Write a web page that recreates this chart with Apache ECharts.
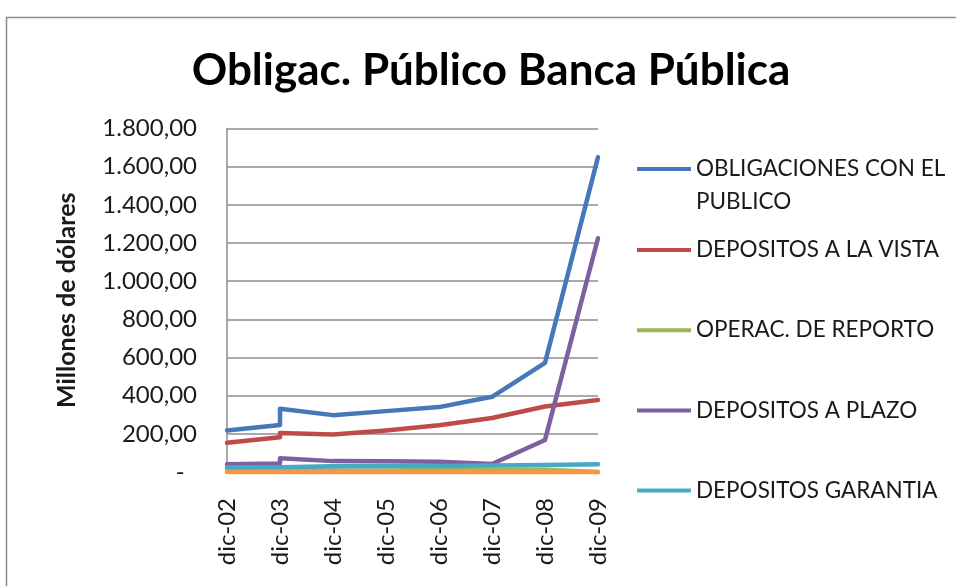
<!DOCTYPE html>
<html>
<head>
<meta charset="utf-8">
<script src="https://cdn.jsdelivr.net/npm/echarts@6/dist/echarts.min.js"></script>
<style>
  html, body { margin: 0; padding: 0; background: #ffffff; }
  #chart { width: 956px; height: 586px; }
</style>
</head>
<body>
<div id="chart"></div>
<script>
// Period of each observation (December of each year; dic-03 reported twice)
const periods = ['dic-02', 'dic-03', 'dic-03', 'dic-04', 'dic-05', 'dic-06', 'dic-07', 'dic-08', 'dic-09'];
// Labels of the horizontal axis
const tickLabels = ['dic-02', 'dic-03', 'dic-04', 'dic-05', 'dic-06', 'dic-07', 'dic-08', 'dic-09'];

// Millones de dólares
const obligacionesPublico = [218, 246, 332, 298, 319, 340, 394, 572, 1650];
const depositosVista      = [153, 182, 205, 196, 218, 245, 283, 343, 377];
const operacReporto       = [12, 12, 8, 8, 8, 10, 12, 12, 0];
const depositosPlazo      = [40, 45, 72, 57, 56, 54, 42, 168, 1225];
const depositosGarantia   = [24, 25, 30, 30, 31, 32, 34, 37, 40];
const depositosRestring   = [0, 0, 0, 0, 0, 0, 0, 0, 0];

const seriesDefs = [
  { name: 'OBLIGACIONES CON EL PUBLICO', values: obligacionesPublico, color: '#4677b8' },
  { name: 'DEPOSITOS A LA VISTA',        values: depositosVista,      color: '#be4b48' },
  { name: 'OPERAC. DE REPORTO',          values: operacReporto,       color: '#98b954' },
  { name: 'DEPOSITOS A PLAZO',           values: depositosPlazo,      color: '#7d60a0' },
  { name: 'DEPOSITOS GARANTIA',          values: depositosGarantia,   color: '#46aac5' },
  { name: 'DEPOSITOS RESTRINGIDOS',      values: depositosRestring,   color: '#f79646' }
];

const FONT = 'Lato, "Open Sans", "Liberation Sans", sans-serif';
const TEXT = '#1a1a1a';

function fmtMiles(v) {
  if (v === 0) return '-  ';
  const s = String(Math.round(v));
  return s.replace(/\B(?=(\d{3})+(?!\d))/g, '.') + ',00';
}

const chart = echarts.init(document.getElementById('chart'), null, { renderer: 'canvas' });

const legendBase = {
  orient: 'vertical',
  left: 637,
  padding: 0,
  itemWidth: 54,
  itemHeight: 4,
  icon: 'rect',
  selectedMode: false,
  textStyle: { fontFamily: FONT, fontSize: 22.5, color: TEXT, lineHeight: 33 }
};

chart.setOption({
  backgroundColor: '#ffffff',
  animation: false,
  title: {
    text: 'Obligac. Público Banca Pública',
    left: 491,
    textAlign: 'center',
    top: 49,
    padding: 0,
    textStyle: { fontFamily: FONT, fontSize: 44, fontWeight: 'bold', color: '#000000' }
  },
  graphic: [{
    type: 'rect',
    silent: true,
    shape: { x: 6.5, y: 17.5, width: 1200, height: 1000 },
    style: { fill: null, stroke: '#8c8c8c', lineWidth: 1.5 }
  }],
  legend: [
    Object.assign({}, legendBase, {
      top: 119.5,
      data: ['OBLIGACIONES CON EL PUBLICO'],
      formatter: n => '\n' + n.replace('CON EL ', 'CON EL\n')
    }),
    Object.assign({}, legendBase, {
      top: 233.5,
      itemGap: 47.2,
      data: ['DEPOSITOS A LA VISTA', 'OPERAC. DE REPORTO', 'DEPOSITOS A PLAZO', 'DEPOSITOS GARANTIA']
    })
  ],
  grid: { left: 227, right: 358, top: 128.5, bottom: 114, containLabel: false },
  xAxis: {
    type: 'value',
    min: 0,
    max: tickLabels.length - 1,
    interval: 1,
    axisLine: { show: true, onZero: false, lineStyle: { color: '#8c8c8c', width: 1.5 } },
    axisTick: { show: false },
    splitLine: { show: false },
    axisLabel: {
      rotate: 90,
      margin: 26,
      fontFamily: FONT,
      fontSize: 24,
      color: TEXT,
      formatter: v => tickLabels[v] || ''
    }
  },
  yAxis: {
    type: 'value',
    min: 0,
    max: 1800,
    interval: 200,
    name: 'Millones de dólares',
    nameLocation: 'middle',
    nameGap: 148,
    nameTextStyle: { fontFamily: FONT, fontSize: 25, fontWeight: 'bold', color: TEXT },
    axisLine: { show: true, lineStyle: { color: '#8c8c8c', width: 1.5 } },
    axisTick: { show: false },
    splitLine: { show: true, lineStyle: { color: '#8c8c8c', width: 1.5 } },
    axisLabel: {
      margin: 30,
      fontFamily: FONT,
      fontSize: 24,
      color: TEXT,
      formatter: fmtMiles
    }
  },
  series: seriesDefs.map(s => ({
    name: s.name,
    type: 'line',
    symbol: 'none',
    smooth: false,
    clip: false,
    color: s.color,
    lineStyle: { width: 4.5, color: s.color, cap: 'round', join: 'round' },
    data: periods.map((p, i) => [tickLabels.indexOf(p), s.values[i]])
  }))
});
</script>
</body>
</html>
